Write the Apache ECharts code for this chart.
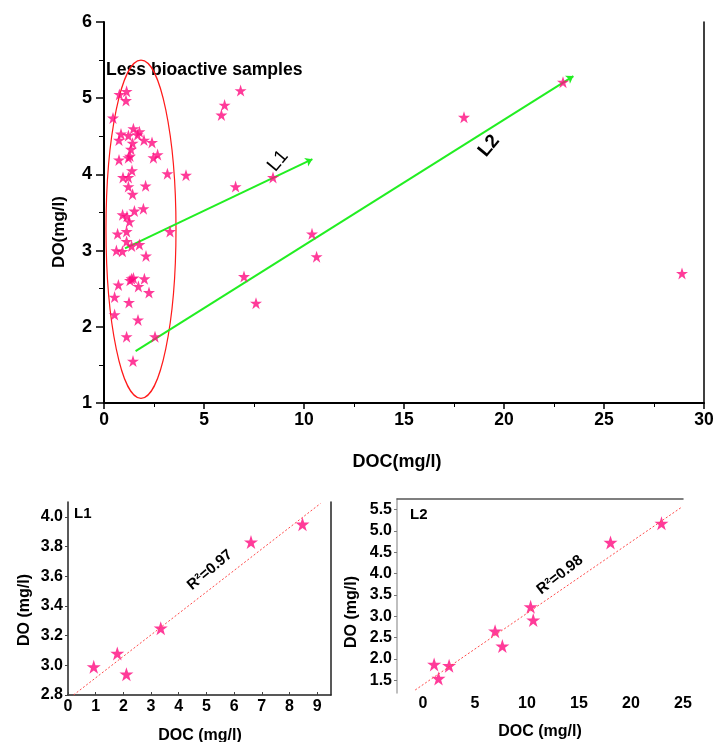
<!DOCTYPE html>
<html>
<head>
<meta charset="utf-8">
<script src="https://cdn.jsdelivr.net/npm/echarts@6/dist/echarts.min.js"></script>
<style>html,body{margin:0;padding:0;background:#fff}#c{width:713px;height:742px}</style>
</head>
<body>
<div id="c"></div>
<script>
// ---------- DATA ----------
const mainDOC = [0.77,1.13,1.10,0.45,1.47,1.77,0.85,1.22,1.68,0.75,1.43,2.00,2.40,1.35,1.22,1.30,0.75,2.47,2.68,1.40,0.95,1.22,3.17,4.10,2.08,1.22,1.43,0.93,1.15,1.52,1.97,1.27,0.68,1.13,1.13,0.62,0.92,1.38,1.77,2.10,3.30,1.47,1.30,1.38,2.02,0.72,1.72,2.25,0.53,1.25,0.53,1.70,1.13,2.55,1.45,5.87,6.03,6.83,6.58,8.45,7.00,7.60,10.40,10.63,18.00,22.95,28.90];
const mainDO  = [5.05,5.09,4.97,4.74,4.60,4.56,4.53,4.51,4.52,4.45,4.41,4.45,4.42,4.33,4.22,4.24,4.19,4.22,4.26,4.05,3.96,3.96,4.01,3.99,3.85,3.84,3.74,3.47,3.45,3.52,3.55,3.38,3.22,3.25,3.12,3.00,2.99,3.06,3.08,2.93,3.25,2.64,2.61,2.63,2.63,2.55,2.53,2.45,2.39,2.32,2.16,2.09,1.87,1.87,1.55,4.78,4.91,5.10,3.84,3.96,2.66,2.31,3.22,2.92,4.75,5.21,2.70];

const l1DOC = [0.93,1.78,2.11,3.35,6.61,8.47];
const l1DO  = [2.99,3.08,2.94,3.25,3.83,3.95];
const l2DOC = [1.07,1.49,2.51,6.93,7.63,10.35,10.60,18.03,22.93];
const l2DO  = [1.87,1.54,1.84,2.65,2.30,3.22,2.91,4.73,5.18];

const fitL1X = [0.2, 9.12], fitL1Y = [2.80, 4.09];
const fitL2X = [-0.75, 24.94], fitL2Y = [1.27, 5.57];

const arrowL1X = [1.05, 10.42], arrowL1Y = [3.03, 4.20];
const arrowL2X = [1.58, 23.47], arrowL2Y = [1.68, 5.29];

const ellipseC = [1.85, 3.28], ellipseR = [1.75, 2.22];

const mainXTicks = [0,5,10,15,20,25,30];
const mainYTicks = [1,2,3,4,5,6];
const l1XTicks = [0,1,2,3,4,5,6,7,8,9];
const l1YTicks = [2.8,3.0,3.2,3.4,3.6,3.8,4.0];
const l2XTicks = [0,5,10,15,20,25];
const l2YTicks = [1.5,2.0,2.5,3.0,3.5,4.0,4.5,5.0,5.5];

// ---------- CHART ----------
const FONT = 'Liberation Sans, Arial, sans-serif';
const PINK = '#ff0a80';
const STAR = 'path://M50,0 L61.8,35.1 L98.9,35.1 L68.8,56.9 L80.2,92.1 L50,70.3 L19.8,92.1 L31.2,56.9 L1.1,35.1 L38.2,35.1 Z';
const zip = (a,b) => a.map((v,i)=>[v,b[i]]);
const lbl = (size) => ({fontFamily: FONT, fontWeight: 'bold', fontSize: size, color: '#000'});

const chart = echarts.init(document.getElementById('c'), null, {renderer: 'canvas'});

const option = {
  animation: false,
  backgroundColor: '#fff',
  grid: [
    {left: 104, top: 22, width: 600, height: 381, outerBoundsMode: 'none'},
    {left: 68, top: 502, width: 263, height: 193, outerBoundsMode: 'none'},
    {left: 397, top: 499, width: 286, height: 194, outerBoundsMode: 'none'}
  ],
  xAxis: [
    {gridIndex: 0, type: 'value', min: 0, max: 30, interval: 5,
     axisLine: {onZero: false, lineStyle: {color: '#000', width: 2}},
     axisTick: {length: 6, lineStyle: {color: '#000', width: 1.5}},
     minorTick: {show: true, splitNumber: 2, length: 4, lineStyle: {color: '#000', width: 1}},
     axisLabel: Object.assign({margin: 8, customValues: mainXTicks}, lbl(17.5)),
     splitLine: {show: false}},
    {gridIndex: 1, type: 'value', min: 0, max: 9.5,
     axisLine: {onZero: false, lineStyle: {color: '#222', width: 1.5}},
     axisTick: {inside: true, length: 3, customValues: l1XTicks, lineStyle: {color: '#444'}},
     axisLabel: Object.assign({margin: 4, customValues: l1XTicks}, lbl(16)),
     splitLine: {show: false}},
    {gridIndex: 2, type: 'value', min: -2.5, max: 25,
     axisLine: {show: false, onZero: false},
     axisTick: {show: false},
     axisLabel: Object.assign({margin: 3, customValues: l2XTicks}, lbl(16)),
     splitLine: {show: false}},
    {gridIndex: 2, type: 'value', position: 'top', min: -2.5, max: 25,
     axisLine: {onZero: false, lineStyle: {color: '#555', width: 1.5}},
     axisTick: {show: false}, axisLabel: {show: false}, splitLine: {show: false}}
  ],
  yAxis: [
    {gridIndex: 0, type: 'value', min: 1, max: 6, interval: 1,
     axisLine: {onZero: false, lineStyle: {color: '#000', width: 2}},
     axisTick: {length: 8, lineStyle: {color: '#000', width: 1.5}},
     minorTick: {show: true, splitNumber: 2, length: 5, lineStyle: {color: '#000', width: 1}},
     axisLabel: Object.assign({margin: 12, customValues: mainYTicks}, lbl(18)),
     splitLine: {show: false}},
    {gridIndex: 0, type: 'value', position: 'right', min: 1, max: 6,
     axisLine: {onZero: false, lineStyle: {color: '#000', width: 1.5}},
     axisTick: {show: false}, axisLabel: {show: false}, splitLine: {show: false}},
    {gridIndex: 1, type: 'value', min: 2.8, max: 4.1,
     axisLine: {onZero: false, lineStyle: {color: '#222', width: 1.5}},
     axisTick: {length: 3, customValues: l1YTicks, lineStyle: {color: '#444'}},
     axisLabel: Object.assign({margin: 5, customValues: l1YTicks, formatter: v => v.toFixed(1)}, lbl(16)),
     splitLine: {show: false}},
    {gridIndex: 1, type: 'value', position: 'right', min: 2.8, max: 4.1,
     axisLine: {onZero: false, lineStyle: {color: '#222', width: 1.5}},
     axisTick: {show: false}, axisLabel: {show: false}, splitLine: {show: false}},
    {gridIndex: 2, type: 'value', min: 1.2, max: 5.75,
     axisLine: {onZero: false, lineStyle: {color: '#aaa', width: 1.5}},
     axisTick: {length: 3, customValues: l2YTicks, lineStyle: {color: '#777'}},
     axisLabel: Object.assign({margin: 5, customValues: l2YTicks, formatter: v => v.toFixed(1)}, lbl(16)),
     splitLine: {show: false}}
  ],
  series: [
    {type: 'custom', xAxisIndex: 0, yAxisIndex: 0, silent: true, clip: false,
     data: [[ellipseC[0], ellipseC[1], ellipseR[0], ellipseR[1]]],
     renderItem: function (params, api) {
       const c = api.coord([api.value(0), api.value(1)]);
       const s = api.size([api.value(2), api.value(3)]);
       return {type: 'ellipse', shape: {cx: c[0], cy: c[1], rx: s[0], ry: s[1]},
               style: {fill: null, stroke: '#ff1a1a', lineWidth: 1.2}};
     }},
    {type: 'lines', coordinateSystem: 'cartesian2d', xAxisIndex: 0, yAxisIndex: 0,
     symbol: ['none', 'arrow'], symbolSize: 7,
     lineStyle: {color: '#22ee22', width: 2, opacity: 1},
     data: [
       {coords: zip(arrowL1X, arrowL1Y)},
       {coords: zip(arrowL2X, arrowL2Y)}
     ]},
    {type: 'scatter', xAxisIndex: 0, yAxisIndex: 0, data: zip(mainDOC, mainDO),
     symbol: STAR, symbolSize: 12, itemStyle: {color: PINK}},
    {type: 'line', xAxisIndex: 1, yAxisIndex: 2, data: zip(fitL1X, fitL1Y), symbol: 'none',
     lineStyle: {color: '#ff4a4a', width: 1, type: [2, 2]}},
    {type: 'scatter', xAxisIndex: 1, yAxisIndex: 2, data: zip(l1DOC, l1DO),
     symbol: STAR, symbolSize: 14, itemStyle: {color: PINK}},
    {type: 'line', xAxisIndex: 2, yAxisIndex: 4, data: zip(fitL2X, fitL2Y), symbol: 'none',
     lineStyle: {color: '#ff4a4a', width: 1, type: [2, 2]}},
    {type: 'scatter', xAxisIndex: 2, yAxisIndex: 4, data: zip(l2DOC, l2DO),
     symbol: STAR, symbolSize: 14, itemStyle: {color: PINK}}
  ],
  graphic: [
    {type: 'text', x: 106, y: 70, style: {text: 'Less bioactive samples', font: 'bold 17.6px ' + FONT, fill: '#000', align: 'left', verticalAlign: 'middle'}},
    {type: 'text', x: 59, y: 232, rotation: Math.PI / 2, style: {text: 'DO(mg/l)', font: 'bold 17px ' + FONT, fill: '#000', align: 'center', verticalAlign: 'middle'}},
    {type: 'text', x: 397, y: 462, style: {text: 'DOC(mg/l)', font: 'bold 18px ' + FONT, fill: '#000', align: 'center', verticalAlign: 'middle'}},
    {type: 'text', x: 278, y: 161, rotation: 50 * Math.PI / 180, style: {text: 'L1', font: '19px ' + FONT, fill: '#000', align: 'center', verticalAlign: 'middle'}},
    {type: 'text', x: 489, y: 146, rotation: 50 * Math.PI / 180, style: {text: 'L2', font: 'bold 19px ' + FONT, fill: '#000', align: 'center', verticalAlign: 'middle'}},
    {type: 'text', x: 74, y: 514, style: {text: 'L1', font: 'bold 15px ' + FONT, fill: '#000', align: 'left', verticalAlign: 'middle'}},
    {type: 'text', x: 25, y: 610, rotation: Math.PI / 2, style: {text: 'DO (mg/l)', font: 'bold 16px ' + FONT, fill: '#000', align: 'center', verticalAlign: 'middle'}},
    {type: 'text', x: 200, y: 736, style: {text: 'DOC (mg/l)', font: 'bold 16px ' + FONT, fill: '#000', align: 'center', verticalAlign: 'middle'}},
    {type: 'text', x: 210, y: 570, rotation: 40 * Math.PI / 180, style: {text: 'R²=0.97', font: 'bold 15px ' + FONT, fill: '#000', align: 'center', verticalAlign: 'middle'}},
    {type: 'text', x: 410, y: 515, style: {text: 'L2', font: 'bold 15px ' + FONT, fill: '#000', align: 'left', verticalAlign: 'middle'}},
    {type: 'text', x: 352, y: 612, rotation: Math.PI / 2, style: {text: 'DO (mg/l)', font: 'bold 16px ' + FONT, fill: '#000', align: 'center', verticalAlign: 'middle'}},
    {type: 'text', x: 540, y: 732, style: {text: 'DOC (mg/l)', font: 'bold 16px ' + FONT, fill: '#000', align: 'center', verticalAlign: 'middle'}},
    {type: 'text', x: 560, y: 575, rotation: 38 * Math.PI / 180, style: {text: 'R²=0.98', font: 'bold 15px ' + FONT, fill: '#000', align: 'center', verticalAlign: 'middle'}}
  ]
};
chart.setOption(option);
</script>
</body>
</html>
